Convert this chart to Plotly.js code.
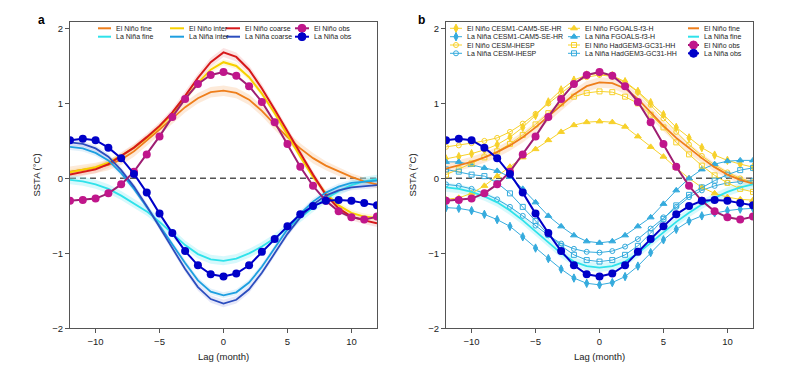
<!DOCTYPE html>
<html><head><meta charset="utf-8">
<script src="https://cdn.plot.ly/plotly-3.0.1.min.js"></script>
<style>html,body{margin:0;padding:0;background:#fff}#chart{width:800px;height:390px}</style>
</head><body><div id="chart"></div>
<script>
// ---------------- data ----------------
const lags = [-12,-11,-10,-9,-8,-7,-6,-5,-4,-3,-2,-1,0,1,2,3,4,5,6,7,8,9,10,11,12];
const xTicks = [-10,-5,0,5,10];
const yTicks = [-2,-1,0,1,2];

const ninoObs = [-0.30,-0.29,-0.27,-0.20,-0.08,0.09,0.32,0.56,0.82,1.06,1.26,1.38,1.42,1.37,1.23,1.02,0.75,0.46,0.155,-0.10,-0.30,-0.44,-0.52,-0.55,-0.51];
const ninaObs = [0.51,0.53,0.51,0.41,0.27,0.06,-0.19,-0.47,-0.73,-0.97,-1.16,-1.28,-1.31,-1.27,-1.16,-0.98,-0.81,-0.64,-0.48,-0.37,-0.30,-0.29,-0.30,-0.33,-0.36];

// panel a
const ninoFineA   = [0.09,0.11,0.14,0.18,0.25,0.36,0.50,0.65,0.80,0.95,1.07,1.15,1.17,1.14,1.05,0.90,0.72,0.55,0.40,0.27,0.17,0.09,0.02,-0.04,-0.08];
const ninoInterA  = [0.08,0.11,0.15,0.21,0.30,0.41,0.54,0.69,0.86,1.06,1.27,1.45,1.55,1.50,1.35,1.13,0.87,0.58,0.29,0.02,-0.20,-0.36,-0.46,-0.51,-0.53];
const ninoCoarseA = [0.05,0.08,0.12,0.19,0.30,0.41,0.55,0.70,0.88,1.10,1.34,1.55,1.68,1.62,1.45,1.20,0.92,0.62,0.34,0.05,-0.22,-0.40,-0.51,-0.56,-0.60];
const ninaFineA   = [-0.02,-0.04,-0.08,-0.14,-0.23,-0.33,-0.44,-0.58,-0.74,-0.89,-1.01,-1.08,-1.10,-1.07,-1.00,-0.91,-0.80,-0.66,-0.52,-0.39,-0.27,-0.17,-0.09,-0.04,-0.01];
const ninaInterA  = [0.42,0.40,0.34,0.24,0.07,-0.14,-0.38,-0.63,-0.88,-1.13,-1.36,-1.51,-1.56,-1.52,-1.39,-1.18,-0.93,-0.68,-0.47,-0.31,-0.19,-0.11,-0.06,-0.04,-0.03];
const ninaCoarseA = [0.48,0.46,0.40,0.29,0.11,-0.11,-0.37,-0.65,-0.93,-1.21,-1.45,-1.61,-1.67,-1.62,-1.48,-1.26,-1.00,-0.74,-0.52,-0.35,-0.23,-0.16,-0.12,-0.10,-0.09];

// ensemble spread (half width of shading)
const sprNinoFineA   = [0.07,0.07,0.07,0.07,0.07,0.07,0.07,0.07,0.07,0.07,0.07,0.07,0.07,0.07,0.07,0.07,0.07,0.07,0.07,0.07,0.06,0.06,0.05,0.05,0.05];
const sprNinoInterA  = [0.04,0.04,0.04,0.04,0.04,0.04,0.04,0.04,0.04,0.04,0.04,0.04,0.04,0.04,0.04,0.04,0.04,0.04,0.04,0.04,0.04,0.04,0.04,0.04,0.04];
const sprNinoCoarseA = [0.05,0.05,0.05,0.05,0.05,0.05,0.05,0.05,0.05,0.06,0.06,0.06,0.06,0.06,0.06,0.06,0.05,0.05,0.05,0.05,0.05,0.05,0.05,0.05,0.05];
const sprNinaFineA   = [0.06,0.06,0.06,0.06,0.06,0.06,0.06,0.06,0.06,0.06,0.06,0.06,0.06,0.06,0.06,0.06,0.06,0.06,0.06,0.06,0.06,0.06,0.06,0.06,0.06];
const sprNinaInterA  = [0.04,0.04,0.04,0.04,0.04,0.04,0.04,0.04,0.04,0.04,0.04,0.04,0.04,0.04,0.04,0.04,0.04,0.04,0.04,0.04,0.04,0.04,0.04,0.04,0.04];
const sprNinaCoarseA = [0.04,0.04,0.04,0.04,0.04,0.04,0.04,0.04,0.04,0.04,0.05,0.05,0.05,0.05,0.05,0.04,0.04,0.04,0.04,0.04,0.04,0.04,0.04,0.04,0.04];

// panel b
const ninoFineB = [0.13,0.17,0.22,0.28,0.35,0.44,0.55,0.68,0.83,0.98,1.12,1.23,1.28,1.27,1.20,1.06,0.88,0.70,0.54,0.40,0.27,0.15,0.05,-0.02,-0.07];
const ninaFineB = [-0.12,-0.14,-0.18,-0.24,-0.32,-0.43,-0.56,-0.71,-0.86,-1.00,-1.11,-1.17,-1.19,-1.17,-1.11,-1.00,-0.86,-0.72,-0.58,-0.46,-0.35,-0.26,-0.18,-0.12,-0.08];
const sprNinoFineB = [0.07,0.07,0.07,0.07,0.07,0.07,0.07,0.07,0.07,0.07,0.07,0.07,0.07,0.07,0.07,0.07,0.07,0.07,0.07,0.07,0.06,0.06,0.05,0.05,0.05];
const sprNinaFineB = [0.06,0.06,0.06,0.06,0.06,0.06,0.06,0.06,0.06,0.06,0.06,0.06,0.06,0.06,0.06,0.06,0.06,0.06,0.06,0.06,0.06,0.06,0.06,0.06,0.06];

const ninoCesm1  = [0.26,0.29,0.33,0.38,0.45,0.55,0.68,0.84,1.02,1.18,1.31,1.38,1.40,1.37,1.29,1.16,1.01,0.85,0.68,0.54,0.41,0.31,0.24,0.19,0.15];
const ninaCesm1  = [-0.39,-0.40,-0.43,-0.48,-0.55,-0.64,-0.78,-0.93,-1.07,-1.21,-1.33,-1.40,-1.42,-1.39,-1.31,-1.17,-0.99,-0.82,-0.68,-0.57,-0.50,-0.46,-0.43,-0.41,-0.40];
const ninoIhesp  = [0.42,0.44,0.47,0.50,0.54,0.62,0.73,0.86,1.00,1.14,1.27,1.35,1.38,1.36,1.28,1.15,0.98,0.80,0.62,0.45,0.30,0.18,0.08,0.00,-0.05];
const ninaIhesp  = [-0.08,-0.10,-0.14,-0.20,-0.28,-0.38,-0.50,-0.63,-0.76,-0.87,-0.94,-0.98,-0.99,-0.97,-0.91,-0.81,-0.67,-0.52,-0.38,-0.25,-0.16,-0.10,-0.06,-0.04,-0.03];
const ninoFgoals = [-0.28,-0.26,-0.20,-0.10,0.03,0.155,0.28,0.39,0.51,0.62,0.71,0.75,0.76,0.75,0.69,0.56,0.42,0.29,0.14,0.00,-0.12,-0.20,-0.25,-0.28,-0.29];
const ninaFgoals = [0.22,0.22,0.18,0.14,0.10,0.02,-0.14,-0.32,-0.50,-0.64,-0.76,-0.84,-0.86,-0.84,-0.76,-0.64,-0.52,-0.34,-0.16,0.00,0.12,0.19,0.23,0.24,0.24];
const ninoHadgem = [0.05,0.12,0.20,0.28,0.36,0.46,0.58,0.72,0.87,1.00,1.09,1.14,1.16,1.15,1.09,1.00,0.85,0.68,0.48,0.32,0.17,0.04,-0.06,-0.14,-0.18];
const ninaHadgem = [0.12,0.09,0.05,0.03,-0.06,-0.20,-0.38,-0.57,-0.75,-0.90,-1.02,-1.09,-1.11,-1.09,-1.02,-0.90,-0.73,-0.54,-0.36,-0.22,-0.12,-0.03,0.05,0.11,0.14];

// ---------------- styles ----------------
const FONT = '"Liberation Sans", Arial, Helvetica, sans-serif';
const C = {
  ninoFine:'#EE7E1B', ninoInter:'#F7D000', ninoCoarse:'#D6191B',
  ninaFine:'#2FE2EA', ninaInter:'#1E9FE0', ninaCoarse:'#2B4DBE',
  ninoObsM:'#C0168B', ninoObsL:'#9E1E72', ninaObs:'#0000C8',
  ninoModel:'#F7D12A', ninaModel:'#35ABDD'
};
const BAND = {
  ninoFine:'rgba(248,185,130,0.30)', ninoInter:'rgba(250,225,110,0.25)', ninoCoarse:'rgba(240,140,140,0.24)',
  ninaFine:'rgba(140,238,245,0.35)', ninaInter:'rgba(140,200,240,0.25)', ninaCoarse:'rgba(150,160,230,0.24)'
};

const traces = [];
function band(xa, ya, vals, spr, col){
  traces.push({x:lags, y:vals.map((v,i)=>v-spr[i]), xaxis:xa, yaxis:ya, mode:'lines', line:{width:0,color:col}, hoverinfo:'skip', showlegend:false});
  traces.push({x:lags, y:vals.map((v,i)=>v+spr[i]), xaxis:xa, yaxis:ya, mode:'lines', line:{width:0,color:col}, fill:'tonexty', fillcolor:col, hoverinfo:'skip', showlegend:false});
}
function line(xa, ya, vals, col, w){
  traces.push({x:lags, y:vals, xaxis:xa, yaxis:ya, mode:'lines', line:{color:col,width:w}, showlegend:false});
}
function model(xa, ya, vals, col, sym, sz){
  traces.push({x:lags, y:vals, xaxis:xa, yaxis:ya, mode:'lines+markers', line:{color:col,width:1},
    marker:{symbol:sym, size:sz, color:col, line:{color:col,width:1}}, showlegend:false});
}
function obs(xa, ya, vals, mcol, lcol){
  traces.push({x:lags, y:vals, xaxis:xa, yaxis:ya, mode:'lines+markers', line:{color:lcol,width:2},
    marker:{symbol:'circle', size:8, color:mcol}, showlegend:false});
}

// panel a
band('x','y',ninoFineA,sprNinoFineA,BAND.ninoFine);
band('x','y',ninoInterA,sprNinoInterA,BAND.ninoInter);
band('x','y',ninoCoarseA,sprNinoCoarseA,BAND.ninoCoarse);
band('x','y',ninaFineA,sprNinaFineA,BAND.ninaFine);
band('x','y',ninaInterA,sprNinaInterA,BAND.ninaInter);
band('x','y',ninaCoarseA,sprNinaCoarseA,BAND.ninaCoarse);
line('x','y',ninoFineA,C.ninoFine,1.8);
line('x','y',ninoInterA,C.ninoInter,2);
line('x','y',ninoCoarseA,C.ninoCoarse,2);
line('x','y',ninaFineA,C.ninaFine,1.8);
line('x','y',ninaInterA,C.ninaInter,1.8);
line('x','y',ninaCoarseA,C.ninaCoarse,1.8);
obs('x','y',ninoObs,C.ninoObsM,C.ninoObsL);
obs('x','y',ninaObs,C.ninaObs,C.ninaObs);

// panel b
band('x2','y2',ninoFineB,sprNinoFineB,BAND.ninoFine);
band('x2','y2',ninaFineB,sprNinaFineB,BAND.ninaFine);
model('x2','y2',ninoCesm1,C.ninoModel,'diamond-tall',6);
model('x2','y2',ninaCesm1,C.ninaModel,'diamond-tall',6);
model('x2','y2',ninoIhesp,C.ninoModel,'circle-open',5);
model('x2','y2',ninaIhesp,C.ninaModel,'circle-open',5);
model('x2','y2',ninoFgoals,C.ninoModel,'triangle-up',6);
model('x2','y2',ninaFgoals,C.ninaModel,'triangle-up',6);
model('x2','y2',ninoHadgem,C.ninoModel,'square-open',5);
model('x2','y2',ninaHadgem,C.ninaModel,'square-open',5);
line('x2','y2',ninoFineB,C.ninoFine,1.8);
line('x2','y2',ninaFineB,C.ninaFine,1.8);
obs('x2','y2',ninoObs,C.ninoObsM,C.ninoObsL);
obs('x2','y2',ninaObs,C.ninaObs,C.ninaObs);

// ---------------- legends (drawn on a pixel overlay axis) ----------------
const legendA = {
  cols:[98,170,226,295], rows:[28.3,36.7], keyLen:[13,14,14,14],
  items:[
    [{t:'El Niño fine',c:C.ninoFine},{t:'La Niña fine',c:C.ninaFine}],
    [{t:'El Niño inter',c:C.ninoInter},{t:'La Niña inter',c:C.ninaInter}],
    [{t:'El Niño coarse',c:C.ninoCoarse},{t:'La Niña coarse',c:C.ninaCoarse}],
    [{t:'El Niño obs',c:C.ninoObsL,m:'circle',mc:C.ninoObsM,ms:8},{t:'La Niña obs',c:C.ninaObs,m:'circle',mc:C.ninaObs,ms:8}]
  ]};
const legendB = {
  cols:[450,568,688], rows:[28.3,36.7,45,53.3], keyLen:[12,12,11],
  items:[
    [{t:'El Niño CESM1-CAM5-SE-HR',c:C.ninoModel,m:'diamond-tall',ms:6,w:1},{t:'La Niña CESM1-CAM5-SE-HR',c:C.ninaModel,m:'diamond-tall',ms:6,w:1},
     {t:'El Niño CESM-iHESP',c:C.ninoModel,m:'circle-open',ms:5,w:1},{t:'La Niña CESM-iHESP',c:C.ninaModel,m:'circle-open',ms:5,w:1}],
    [{t:'El Niño FGOALS-f3-H',c:C.ninoModel,m:'triangle-up',ms:6,w:1},{t:'La Niña FGOALS-f3-H',c:C.ninaModel,m:'triangle-up',ms:6,w:1},
     {t:'El Niño HadGEM3-GC31-HH',c:C.ninoModel,m:'square-open',ms:5,w:1},{t:'La Niña HadGEM3-GC31-HH',c:C.ninaModel,m:'square-open',ms:5,w:1}],
    [{t:'El Niño fine',c:C.ninoFine},{t:'La Niña fine',c:C.ninaFine},
     {t:'El Niño obs',c:C.ninoObsL,m:'circle',mc:C.ninoObsM,ms:8},{t:'La Niña obs',c:C.ninaObs,m:'circle',mc:C.ninaObs,ms:8}]
  ]};
const annotations = [];
function drawLegend(L){
  L.items.forEach((col,ci)=>{
    col.forEach((it,ri)=>{
      const x0=L.cols[ci], x1=x0+L.keyLen[ci], y=L.rows[ri];
      traces.push({x:[x0,x1], y:[y,y], xaxis:'x3', yaxis:'y3', mode:'lines', line:{color:it.c,width:it.w||2}, hoverinfo:'skip', showlegend:false});
      if(it.m){
        traces.push({x:[(x0+x1)/2], y:[y], xaxis:'x3', yaxis:'y3', mode:'markers', hoverinfo:'skip', showlegend:false,
          marker:{symbol:it.m,size:it.ms,color:it.mc||it.c,line:{color:it.mc||it.c,width:1}}});
      }
      annotations.push({xref:'x3',yref:'y3',x:x1+3,y:y,text:it.t,showarrow:false,xanchor:'left',yanchor:'middle',
        font:{family:FONT,size:7,color:'#222'}});
    });
  });
}
drawLegend(legendA);
drawLegend(legendB);
annotations.push({xref:'x3',yref:'y3',x:41,y:20,text:'<b>a</b>',showarrow:false,font:{family:FONT,size:12,color:'#000'}});
annotations.push({xref:'x3',yref:'y3',x:421,y:20,text:'<b>b</b>',showarrow:false,font:{family:FONT,size:12,color:'#000'}});

// ---------------- layout ----------------
const axisCommon = {showline:true, linecolor:'#555', linewidth:1, mirror:true, ticks:'outside', ticklen:4,
  tickcolor:'#555', tickfont:{family:FONT,size:9.5,color:'#222'}, showgrid:false, zeroline:false, fixedrange:true};
const xCommon = Object.assign({}, axisCommon, {range:[-12,12], tickmode:'array', tickvals:xTicks,
  title:{text:'Lag (month)', font:{family:FONT,size:9.5,color:'#222'}, standoff:7}});
const yCommon = Object.assign({}, axisCommon, {range:[-2,2.09], tickmode:'array', tickvals:yTicks,
  title:{text:'SSTA (°C)', font:{family:FONT,size:9.5,color:'#222'}, standoff:9}});

const zeroLine = (xr,yr)=>({type:'line', xref:xr+' domain', yref:yr, x0:0, x1:1, y0:0, y1:0, layer:'below',
  line:{color:'#555', width:1.5, dash:'6px,4px'}});

const layout = {
  width:800, height:390, margin:{l:0,r:0,t:0,b:0}, paper_bgcolor:'#fff', plot_bgcolor:'rgba(0,0,0,0)',
  showlegend:false, font:{family:FONT},
  xaxis: Object.assign({}, xCommon, {domain:[70/800, 377/800], anchor:'y'}),
  yaxis: Object.assign({}, yCommon, {domain:[1-328.3/390, 1-21.7/390], anchor:'x'}),
  xaxis2: Object.assign({}, xCommon, {domain:[446/800, 753/800], anchor:'y2'}),
  yaxis2: Object.assign({}, yCommon, {domain:[1-328.3/390, 1-21.7/390], anchor:'x2'}),
  xaxis3: {domain:[0,1], range:[0,800], visible:false, fixedrange:true, anchor:'y3'},
  yaxis3: {domain:[0,1], range:[390,0], visible:false, fixedrange:true, anchor:'x3'},
  shapes:[zeroLine('x','y'), zeroLine('x2','y2')],
  annotations: annotations
};
Plotly.newPlot('chart', traces, layout, {staticPlot:true, displayModeBar:false});
</script></body></html>
